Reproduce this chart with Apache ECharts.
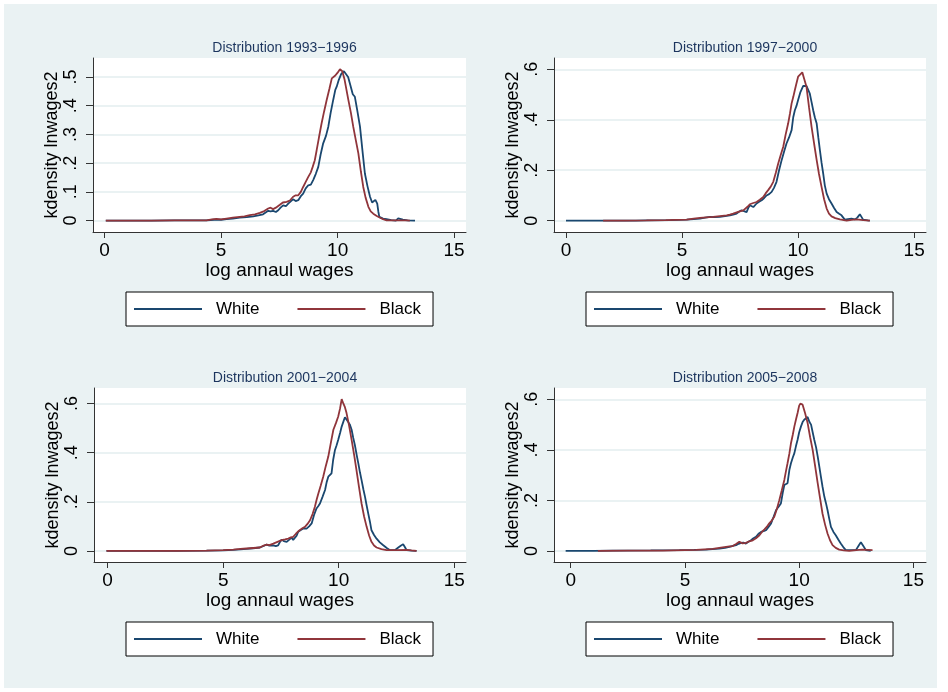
<!DOCTYPE html>
<html>
<head>
<meta charset="utf-8">
<script src="https://cdn.jsdelivr.net/npm/echarts@6/dist/echarts.min.js"></script>
<style>html,body{margin:0;padding:0;background:#fff}#c{width:948px;height:692px}</style>
</head>
<body>
<div id="c"></div>
<script>
// ---------- DATA ----------
var panelTitles = ['Distribution 1993\u22121996','Distribution 1997\u22122000','Distribution 2001\u22122004','Distribution 2005\u22122008'];
var seriesNames = ['White','Black'];
var xTicks = [0,5,10,15];
var yTicks1 = [0,0.1,0.2,0.3,0.4,0.5];
var yTicks2 = [0,0.2,0.4,0.6];
var xTitle = 'log annaul wages';
var yTitle = 'kdensity lnwages2';

var white9396 = [[0.05,0],[1,0],[2,0],[3,0.0005],[4,0.001],[4.37,0.001],[4.7,0.003],[5.0,0.003],[5.23,0.005],[5.5,0.007],[5.8,0.010],[6.1,0.012],[6.38,0.015],[6.6,0.018],[6.8,0.022],[7.02,0.034],[7.12,0.032],[7.23,0.034],[7.35,0.030],[7.45,0.036],[7.55,0.045],[7.66,0.053],[7.78,0.05],[7.88,0.059],[8.0,0.068],[8.09,0.074],[8.2,0.068],[8.31,0.071],[8.42,0.085],[8.52,0.094],[8.63,0.112],[8.74,0.123],[8.85,0.125],[8.95,0.141],[9.06,0.162],[9.17,0.187],[9.27,0.23],[9.38,0.269],[9.5,0.295],[9.6,0.327],[9.7,0.375],[9.81,0.42],[9.9,0.455],[9.96,0.466],[10.05,0.49],[10.15,0.51],[10.27,0.52],[10.35,0.515],[10.45,0.5],[10.55,0.47],[10.65,0.44],[10.74,0.431],[10.85,0.38],[10.96,0.327],[11.07,0.24],[11.17,0.164],[11.28,0.12],[11.39,0.083],[11.48,0.063],[11.55,0.068],[11.62,0.072],[11.7,0.059],[11.75,0.03],[11.79,0.013],[11.95,0.007],[12.1,0.005],[12.3,0.002],[12.5,0],[12.6,0.008],[12.68,0.012],[12.8,0.003],[13.0,0.001],[13.32,0]];
var black9396 = [[0.05,0],[1,0],[2,0],[3,0.0005],[4,0.001],[4.37,0.001],[4.6,0.004],[4.8,0.006],[5.0,0.004],[5.23,0.007],[5.5,0.010],[5.8,0.013],[6.0,0.015],[6.23,0.019],[6.45,0.022],[6.66,0.027],[6.85,0.033],[7.02,0.042],[7.12,0.045],[7.23,0.040],[7.35,0.045],[7.52,0.055],[7.65,0.063],[7.81,0.065],[7.95,0.07],[8.09,0.083],[8.2,0.088],[8.31,0.088],[8.42,0.1],[8.52,0.117],[8.63,0.135],[8.74,0.152],[8.85,0.168],[8.93,0.187],[9.02,0.21],[9.1,0.245],[9.2,0.29],[9.31,0.338],[9.42,0.38],[9.53,0.42],[9.65,0.46],[9.75,0.495],[9.81,0.501],[9.9,0.505],[10.0,0.515],[10.1,0.527],[10.2,0.52],[10.3,0.49],[10.38,0.455],[10.46,0.42],[10.57,0.375],[10.67,0.327],[10.78,0.28],[10.89,0.234],[11.0,0.17],[11.1,0.117],[11.2,0.08],[11.32,0.048],[11.42,0.032],[11.53,0.024],[11.68,0.016],[11.82,0.010],[11.95,0.005],[12.1,0.001],[12.5,0.001],[12.97,0.001],[13.1,0]];

var white9700 = [[0,0],[1,0],[2,0],[3,0],[3.47,0.001],[4.5,0.002],[5.2,0.004],[5.5,0.006],[5.77,0.008],[6.0,0.012],[6.2,0.015],[6.4,0.014],[6.63,0.015],[6.85,0.018],[7.06,0.021],[7.2,0.024],[7.35,0.028],[7.45,0.035],[7.56,0.041],[7.67,0.038],[7.78,0.034],[7.85,0.05],[7.92,0.061],[8.0,0.058],[8.07,0.054],[8.14,0.06],[8.21,0.068],[8.32,0.075],[8.43,0.081],[8.54,0.09],[8.64,0.1],[8.75,0.105],[8.86,0.114],[8.96,0.13],[9.07,0.154],[9.18,0.2],[9.29,0.24],[9.4,0.275],[9.5,0.306],[9.61,0.33],[9.72,0.359],[9.79,0.41],[9.86,0.438],[9.93,0.455],[10.0,0.478],[10.1,0.51],[10.22,0.534],[10.3,0.536],[10.36,0.534],[10.43,0.52],[10.5,0.505],[10.58,0.47],[10.65,0.438],[10.72,0.41],[10.8,0.385],[10.87,0.33],[10.94,0.279],[11.01,0.23],[11.08,0.187],[11.15,0.14],[11.23,0.107],[11.33,0.085],[11.44,0.068],[11.55,0.05],[11.66,0.034],[11.77,0.027],[11.87,0.021],[12.01,0.004],[12.15,0.006],[12.3,0.008],[12.45,0.005],[12.55,0.012],[12.66,0.025],[12.73,0.015],[12.8,0.004],[13.0,0.001],[13.09,0]];
var black9700 = [[1.6,0],[2.5,0],[3.47,0.001],[4.3,0.002],[5.2,0.004],[5.5,0.008],[5.77,0.011],[6.05,0.013],[6.34,0.015],[6.63,0.018],[6.92,0.021],[7.06,0.024],[7.2,0.028],[7.42,0.035],[7.64,0.041],[7.72,0.048],[7.82,0.055],[7.92,0.065],[8.07,0.07],[8.21,0.074],[8.35,0.083],[8.5,0.094],[8.6,0.108],[8.71,0.121],[8.82,0.135],[8.93,0.154],[9.04,0.19],[9.14,0.226],[9.25,0.26],[9.36,0.293],[9.46,0.34],[9.57,0.385],[9.65,0.425],[9.72,0.465],[9.79,0.49],[9.86,0.518],[9.93,0.545],[10.0,0.571],[10.08,0.578],[10.18,0.588],[10.27,0.56],[10.36,0.531],[10.47,0.45],[10.58,0.372],[10.69,0.305],[10.8,0.24],[10.9,0.185],[11.01,0.134],[11.12,0.085],[11.23,0.048],[11.33,0.028],[11.44,0.017],[11.6,0.01],[11.8,0.005],[12.09,0],[12.3,0.003],[12.52,0.005],[12.8,0.002],[13.09,0]];

var white0104 = [[-0.05,0],[1,0],[2,0],[3,0],[4.28,0.001],[5.0,0.002],[5.44,0.004],[5.75,0.006],[6.01,0.008],[6.3,0.011],[6.59,0.014],[6.75,0.02],[6.88,0.026],[7.0,0.022],[7.17,0.023],[7.28,0.02],[7.38,0.023],[7.45,0.035],[7.53,0.046],[7.62,0.04],[7.68,0.033],[7.75,0.037],[7.85,0.045],[7.96,0.054],[8.03,0.045],[8.11,0.05],[8.18,0.062],[8.25,0.078],[8.36,0.085],[8.47,0.091],[8.54,0.088],[8.61,0.091],[8.72,0.1],[8.83,0.112],[8.93,0.145],[9.04,0.173],[9.12,0.183],[9.19,0.193],[9.3,0.22],[9.41,0.248],[9.48,0.28],[9.55,0.302],[9.62,0.31],[9.69,0.316],[9.76,0.37],[9.84,0.411],[9.91,0.43],[9.98,0.452],[10.06,0.48],[10.13,0.506],[10.2,0.525],[10.27,0.544],[10.34,0.535],[10.41,0.533],[10.48,0.515],[10.56,0.493],[10.63,0.46],[10.7,0.431],[10.78,0.39],[10.85,0.356],[10.92,0.32],[10.99,0.288],[11.07,0.25],[11.14,0.22],[11.21,0.185],[11.28,0.152],[11.35,0.12],[11.42,0.084],[11.53,0.065],[11.64,0.05],[11.78,0.035],[11.93,0.023],[12.08,0.012],[12.22,0.003],[12.43,0.003],[12.58,0.014],[12.7,0.022],[12.79,0.027],[12.87,0.015],[12.94,0.003],[13.15,0.001],[13.37,0]];
var black0104 = [[-0.05,0],[1,0],[2,0],[3,0],[4.28,0.001],[5.0,0.003],[5.44,0.005],[5.75,0.008],[6.01,0.010],[6.3,0.012],[6.59,0.014],[6.75,0.022],[6.88,0.026],[7.0,0.024],[7.17,0.030],[7.35,0.037],[7.53,0.044],[7.68,0.047],[7.82,0.050],[7.93,0.055],[8.03,0.057],[8.15,0.07],[8.25,0.08],[8.32,0.087],[8.43,0.092],[8.54,0.098],[8.65,0.11],[8.76,0.125],[8.87,0.15],[8.97,0.18],[9.05,0.21],[9.12,0.234],[9.22,0.265],[9.33,0.302],[9.44,0.345],[9.55,0.384],[9.66,0.44],[9.77,0.493],[9.88,0.52],[9.98,0.547],[10.06,0.58],[10.13,0.618],[10.2,0.6],[10.27,0.585],[10.34,0.561],[10.45,0.51],[10.56,0.452],[10.67,0.39],[10.77,0.329],[10.88,0.26],[10.99,0.193],[11.1,0.14],[11.21,0.098],[11.32,0.062],[11.42,0.037],[11.53,0.022],[11.64,0.014],[11.85,0.007],[12.07,0.003],[12.5,0.003],[12.94,0.004],[13.15,0.002],[13.37,0]];

var white0508 = [[-0.22,0],[1,0],[1.85,0.001],[3.5,0.002],[4.76,0.003],[5.4,0.004],[5.93,0.005],[6.2,0.007],[6.51,0.009],[6.75,0.012],[6.95,0.016],[7.1,0.02],[7.24,0.023],[7.35,0.028],[7.46,0.032],[7.56,0.033],[7.67,0.029],[7.78,0.036],[7.89,0.042],[8.0,0.05],[8.11,0.056],[8.22,0.068],[8.33,0.075],[8.44,0.078],[8.55,0.082],[8.66,0.095],[8.77,0.109],[8.88,0.135],[8.99,0.162],[9.1,0.175],[9.2,0.188],[9.28,0.23],[9.35,0.261],[9.42,0.265],[9.49,0.268],[9.57,0.32],[9.64,0.347],[9.72,0.37],[9.79,0.387],[9.86,0.415],[9.93,0.44],[10.0,0.47],[10.08,0.493],[10.15,0.51],[10.22,0.519],[10.3,0.515],[10.37,0.53],[10.45,0.51],[10.52,0.5],[10.59,0.47],[10.66,0.44],[10.74,0.41],[10.81,0.374],[10.88,0.335],[10.95,0.294],[11.02,0.255],[11.1,0.215],[11.17,0.19],[11.24,0.162],[11.31,0.13],[11.39,0.095],[11.5,0.075],[11.6,0.062],[11.71,0.045],[11.82,0.029],[11.93,0.015],[12.04,0.003],[12.26,0.003],[12.48,0.003],[12.6,0.02],[12.7,0.034],[12.8,0.02],[12.92,0.003],[13.13,0]];
var black0508 = [[1.19,0],[2.5,0.001],[4.03,0.001],[5.0,0.003],[5.49,0.004],[5.85,0.006],[6.22,0.008],[6.5,0.012],[6.8,0.016],[6.95,0.018],[7.09,0.019],[7.24,0.027],[7.38,0.036],[7.52,0.03],[7.67,0.032],[7.82,0.038],[7.97,0.042],[8.11,0.05],[8.26,0.062],[8.37,0.075],[8.48,0.085],[8.58,0.095],[8.69,0.109],[8.8,0.12],[8.91,0.135],[9.02,0.165],[9.13,0.201],[9.24,0.24],[9.35,0.281],[9.42,0.315],[9.49,0.347],[9.57,0.385],[9.64,0.426],[9.72,0.46],[9.79,0.493],[9.86,0.52],[9.93,0.546],[10.0,0.575],[10.05,0.583],[10.15,0.579],[10.26,0.545],[10.37,0.506],[10.48,0.45],[10.59,0.4],[10.7,0.335],[10.81,0.268],[10.92,0.205],[11.02,0.148],[11.13,0.105],[11.24,0.069],[11.35,0.042],[11.46,0.023],[11.6,0.012],[11.75,0.005],[11.95,0.002],[12.19,0],[12.5,0.003],[12.77,0.005],[13.0,0.004],[13.21,0.003]];

// ---------- LAYOUT ----------
var FONT = 'Liberation Sans, Arial, Helvetica, sans-serif';
var BLUE = '#1a476f', RED = '#90353b', BG = '#eaf2f3', TITLE = '#1c355e';
var panels = [
  {grid:{left:93, top:58, width:373, height:174}, xr:[-0.5,15.51], yr:[-0.0397,0.566], yt:yTicks1, w:white9396, b:black9396, lg:{left:126, top:292}},
  {grid:{left:554, top:58, width:372, height:174}, xr:[-0.517,15.51], yr:[-0.045,0.645], yt:yTicks2, w:white9700, b:black9700, lg:{left:586, top:292}},
  {grid:{left:94, top:388, width:372, height:174}, xr:[-0.59,15.51], yr:[-0.045,0.663], yt:yTicks2, w:white0104, b:black0104, lg:{left:126, top:622}},
  {grid:{left:554, top:388, width:372, height:174}, xr:[-0.73,15.55], yr:[-0.044,0.645], yt:yTicks2, w:white0508, b:black0508, lg:{left:586, top:622}}
];

function fmtY(v){ if (v === 0) return '0'; return String(Math.round(v*10)/10).replace(/^0/, ''); }

var option = {
  backgroundColor: '#fff',
  animation: false,
  graphic: [{type:'rect', shape:{x:4, y:4, width:933, height:684}, style:{fill:BG}, z:-10, silent:true}],
  title: [], grid: [], xAxis: [], yAxis: [], legend: [], series: []
};

panels.forEach(function(p, i){
  option.grid.push({left:p.grid.left, top:p.grid.top, width:p.grid.width, height:p.grid.height,
    show:true, backgroundColor:'#fff', borderWidth:0, containLabel:false});
  option.title.push({text:panelTitles[i], left:p.grid.left + p.grid.width/2, top:p.grid.top - 22, textAlign:'center',
    textStyle:{fontFamily:FONT, fontSize:14, fontWeight:'normal', color:TITLE}});
  option.xAxis.push({type:'value', gridIndex:i, min:p.xr[0], max:p.xr[1],
    name:xTitle, nameLocation:'middle', nameGap:27,
    nameTextStyle:{fontFamily:FONT, fontSize:19, color:'#000'},
    axisLine:{show:true, onZero:false, lineStyle:{color:'#333', width:1}},
    axisTick:{show:true, inside:false, length:6, customValues:xTicks, lineStyle:{color:'#333'}},
    axisLabel:{customValues:xTicks, margin:9, fontFamily:FONT, fontSize:19, color:'#000'},
    splitLine:{show:false}});
  option.yAxis.push({type:'value', gridIndex:i, min:p.yr[0], max:p.yr[1],
    name:yTitle, nameLocation:'middle', nameGap:31, nameRotate:90,
    nameTextStyle:{fontFamily:FONT, fontSize:18, color:'#000'},
    axisLine:{show:true, onZero:false, lineStyle:{color:'#333', width:1}},
    axisTick:{show:true, inside:false, length:7, customValues:p.yt, lineStyle:{color:'#333'}},
    axisLabel:{customValues:p.yt, rotate:90, margin:13, fontFamily:FONT, fontSize:18, color:'#000', formatter:fmtY},
    splitLine:{show:true, lineStyle:{color:BG, width:2}}});
  option.legend.push({left:p.lg.left, top:p.lg.top, orient:'horizontal', data:seriesNames, selectedMode:false,
    icon:'rect', itemWidth:68, itemHeight:2, itemGap:38, padding:[7,12,7,8],
    backgroundColor:'#fff', borderColor:'#000', borderWidth:1, borderRadius:0,
    textStyle:{fontFamily:FONT, fontSize:17, lineHeight:20, color:'#000', padding:[0,0,0,9]}});
  option.series.push({name:'White', type:'line', xAxisIndex:i, yAxisIndex:i, data:p.w, symbol:'none', smooth:false,
    lineStyle:{color:BLUE, width:1.8}, itemStyle:{color:BLUE}});
  option.series.push({name:'Black', type:'line', xAxisIndex:i, yAxisIndex:i, data:p.b, symbol:'none', smooth:false,
    lineStyle:{color:RED, width:1.8}, itemStyle:{color:RED}});
});

var chart = echarts.init(document.getElementById('c'), null, {renderer:'canvas'});
chart.setOption(option);
</script>
</body>
</html>
